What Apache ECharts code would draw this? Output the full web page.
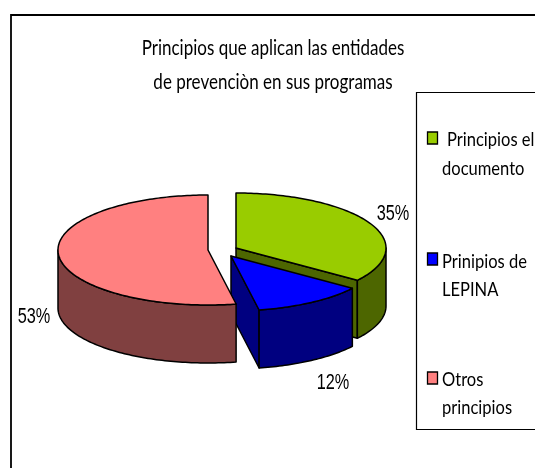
<!DOCTYPE html>
<html><head><meta charset="utf-8">
<style>html,body{margin:0;padding:0;background:#fff}#c{width:535px;height:468px}</style>
<script src="https://cdn.jsdelivr.net/npm/echarts@6/dist/echarts.min.js"></script>
</head><body><div id="c"></div>
<script>
const titleLines = ['Principios que aplican las entidades', 'de prevenciòn en sus programas'];
const categories = ['Principios el\ndocumento', 'Prinipios de\nLEPINA', 'Otros\nprincipios'];
const values = [35, 12, 53];
const topColors = ['#99CC00', '#0000FF', '#FF8080'];
const sideColors = ['#4D6600', '#000080', '#804040'];

// Layout of the drawing (not data)
const RX = 150, RY = 55, DEPTH = 58;
const apex = [[236, 248], [231, 256], [208, 250]];
const labelPos = [[393, 214], [333, 383], [34, 317]];
const legendY = [[132, 140, 169], [253, 262, 290], [372, 380, 408]];
const legendTextX = [[447, 442], [442, 442], [442, 442]];
const titleY = [48, 82];
const TEXT_FONT = 'Lato,"Open Sans",sans-serif';
const total = values.reduce((a, b) => a + b, 0);

function renderSlice(params, api) {
  const i = params.dataIndex;
  let before = 0;
  for (let k = 0; k < i; k++) before += values[k];
  const a0 = before / total * 2 * Math.PI;
  const a1 = (before + values[i]) / total * 2 * Math.PI;
  const [cx, cy] = apex[i];
  const pt = (a, dz) => [cx + RX * Math.sin(a), cy - RY * Math.cos(a) + (dz || 0)];
  const arc = (from, to, dz) => {
    const n = Math.max(2, Math.ceil(Math.abs(to - from) / 0.02));
    const out = [];
    for (let k = 0; k <= n; k++) out.push(pt(from + (to - from) * k / n, dz));
    return out;
  };
  const stroke = { stroke: '#000', lineWidth: 1.5, lineJoin: 'round' };
  const kids = [];
  // cut face at the end of the slice, when it turns towards the viewer
  if (Math.sin(a1) > 0.01) {
    kids.push({ type: 'polygon', shape: { points: [[cx, cy], pt(a1, 0), pt(a1, DEPTH), [cx, cy + DEPTH]] },
      style: Object.assign({ fill: sideColors[i] }, stroke) });
  }
  // outer wall: front half of the ellipse only
  const w0 = Math.max(a0, Math.PI / 2), w1 = Math.min(a1, 3 * Math.PI / 2);
  if (w1 > w0) {
    kids.push({ type: 'polygon', shape: { points: arc(w0, w1, 0).concat(arc(w1, w0, DEPTH)) },
      style: Object.assign({ fill: sideColors[i] }, stroke) });
  }
  kids.push({ type: 'polygon', shape: { points: [[cx, cy]].concat(arc(a0, a1, 0)) },
    style: Object.assign({ fill: topColors[i] }, stroke) });
  kids.push({ type: 'text', x: labelPos[i][0], y: labelPos[i][1], scaleX: 0.74,
    style: { text: values[i] + '%', fill: '#000', font: '22px "Liberation Sans",Arial,sans-serif', textAlign: 'center', textVerticalAlign: 'middle' } });
  return { type: 'group', children: kids };
}

const textGraphics = [];
titleLines.forEach((line, j) => {
  textGraphics.push({ type: 'text', x: 273, y: titleY[j], scaleX: 0.81,
    style: { text: line, fill: '#000', font: '21px ' + TEXT_FONT, textAlign: 'center', textVerticalAlign: 'middle' } });
});
categories.forEach((name, i) => {
  textGraphics.push({ type: 'rect', shape: { x: 427.5, y: legendY[i][0], width: 10, height: 12 },
    style: { fill: topColors[i], stroke: '#000', lineWidth: 1.3 } });
  name.split('\n').forEach((line, j) => {
    textGraphics.push({ type: 'text', x: legendTextX[i][j], y: legendY[i][j + 1], scaleX: 0.87,
      style: { text: line, fill: '#000', font: '19px ' + TEXT_FONT, textVerticalAlign: 'middle' } });
  });
});

const chart = echarts.init(document.getElementById('c'), null, { renderer: 'canvas' });
chart.setOption({
  animation: false,
  backgroundColor: '#fff',
  graphic: [
    { type: 'rect', shape: { x: 11, y: 15, width: 560, height: 480 }, style: { fill: 'none', stroke: '#000', lineWidth: 1.8 }, z: 0 },
    { type: 'rect', shape: { x: 416.5, y: 92.5, width: 160, height: 337 }, style: { fill: '#fff', stroke: '#000', lineWidth: 1.2 }, z: 1 },
    ...textGraphics.map(g => Object.assign(g, { z: 2 }))
  ],
  series: [{
    type: 'custom',
    coordinateSystem: 'none',
    renderItem: renderSlice,
    data: categories.map((name, i) => ({ name: name, value: values[i] })),
    silent: true
  }]
});
</script></body></html>
